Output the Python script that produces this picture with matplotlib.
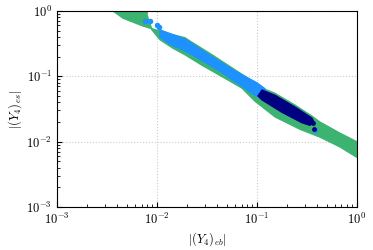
import numpy as np
import matplotlib
matplotlib.use('Agg')
import matplotlib.pyplot as plt

plt.rcParams['mathtext.fontset'] = 'cm'
plt.rcParams['font.family'] = 'serif'
plt.rcParams['font.serif'] = ['cmr10', 'DejaVu Serif']
plt.rcParams['axes.formatter.use_mathtext'] = True

# band outlines, as log10 values
green_upper_lx = [-2.47, -2.44, -2.34, -2.14, -1.90, -1.72, -1.67, -1.45, -1.22, -1.02, -0.95, -0.82, -0.62, -0.45, -0.37, -0.17, 0.01]
green_upper_ly = [0.09, 0.00, -0.11, -0.23, -0.34, -0.41, -0.46, -0.67, -0.90, -1.10, -1.18, -1.26, -1.44, -1.61, -1.70, -1.87, -2.01]
green_lower_lx = [0.01, -0.17, -0.37, -0.57, -0.82, -1.02, -1.15, -1.32, -1.55, -1.72, -1.84, -1.97, -2.05, -2.10, -2.09]
green_lower_ly = [-2.25, -2.08, -1.93, -1.81, -1.62, -1.38, -1.18, -1.03, -0.83, -0.67, -0.57, -0.44, -0.29, -0.06, 0.09]

blue_upper_lx = [-1.97, -1.72, -1.45, -1.22, -1.00, -0.92]
blue_upper_ly = [-0.29, -0.43, -0.70, -0.92, -1.10, -1.19]
blue_lower_lx = [-0.92, -1.02, -1.39, -1.72, -1.87, -1.97]
blue_lower_ly = [-1.36, -1.29, -0.90, -0.61, -0.51, -0.40]
blue_dots_lx = [-2.12, -2.07, -2.00, -1.98, -0.42]
blue_dots_ly = [-0.15, -0.15, -0.21, -0.25, -1.82]

navy_upper_lx = [-0.95, -0.82, -0.62, -0.45, -0.43]
navy_upper_ly = [-1.21, -1.29, -1.47, -1.64, -1.70]
navy_lower_lx = [-0.47, -0.55, -0.75, -0.95, -0.99]
navy_lower_ly = [-1.75, -1.71, -1.55, -1.36, -1.30]
navy_dots_lx = [-0.44, -0.43]
navy_dots_ly = [-1.71, -1.81]

green = '#3cb371'
blue = '#1e90ff'
navy = '#000080'


def band(ax, ux, uy, lx, ly, color, z):
    xs = 10.0 ** np.array(ux + lx)
    ys = 10.0 ** np.array(uy + ly)
    ax.fill(xs, ys, color=color, lw=1.0, joinstyle='round', zorder=z)


fig, ax = plt.subplots(figsize=(3.73, 2.5), dpi=100)
fig.subplots_adjust(left=0.153, right=0.957, top=0.956, bottom=0.172)

band(ax, green_upper_lx, green_upper_ly, green_lower_lx, green_lower_ly, green, 2)
band(ax, blue_upper_lx, blue_upper_ly, blue_lower_lx, blue_lower_ly, blue, 3)
ax.scatter(10.0 ** np.array(blue_dots_lx), 10.0 ** np.array(blue_dots_ly), s=16, color=blue, lw=0, zorder=3)
band(ax, navy_upper_lx, navy_upper_ly, navy_lower_lx, navy_lower_ly, navy, 4)
ax.scatter(10.0 ** np.array(navy_dots_lx), 10.0 ** np.array(navy_dots_ly), s=12, color=navy, lw=0, zorder=5)

ax.set_xscale('log')
ax.set_yscale('log')
ax.set_xlim(1e-3, 1)
ax.set_ylim(1e-3, 1)
ax.grid(True, which='major', ls=':', color='#cccccc', lw=0.8)
ax.set_axisbelow(True)
ax.tick_params(which='both', direction='in', top=False, right=False, labelsize=9)
ax.set_xlabel(r'$|(Y_4)_{eb}|$', fontsize=9, labelpad=2)
ax.set_ylabel(r'$|(Y_4)_{es}|$', fontsize=9, labelpad=2)

plt.savefig('out.png', dpi=100)
plt.close()
